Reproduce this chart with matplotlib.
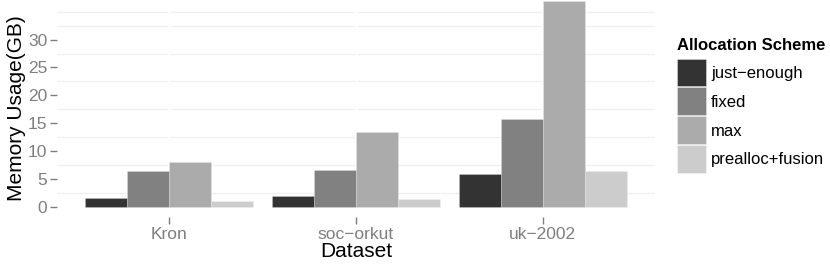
import numpy as np
import matplotlib
matplotlib.use('Agg')
import matplotlib.pyplot as plt
from matplotlib.patches import Patch

datasets = ['Kron', 'soc\u2212orkut', 'uk\u22122002']
schemes = ['just\u2212enough', 'fixed', 'max', 'prealloc+fusion']
colors = ['#333333', '#818181', '#ABABAB', '#CCCCCC']

# memory usage in GB, one list per allocation scheme
just_enough = [1.6, 1.9, 5.9]
fixed = [6.4, 6.7, 15.8]
max_alloc = [8.1, 13.4, 36.9]
prealloc_fusion = [1.1, 1.5, 6.45]
values = [just_enough, fixed, max_alloc, prealloc_fusion]

yticks = [0, 5, 10, 15, 20, 25, 30]
minor_grid = [2.5, 7.5, 12.5, 17.5, 22.5, 27.5, 32.5, 35]

plt.rcParams['font.family'] = ['Liberation Sans', 'DejaVu Sans']

fig = plt.figure(figsize=(8.3, 2.64), dpi=100)
ax = fig.add_axes([57/830, 47/264, (655-57)/830, 217/264])

x = np.arange(1, len(datasets)+1)
width = 0.9 / len(schemes)
for i, vals in enumerate(values):
  offs = (i - (len(schemes)-1)/2) * width
  ax.bar(x + offs, vals, width, color=colors[i], edgecolor=(1, 1, 1, 0.35), linewidth=0.4, zorder=3)

# light grey minor lines, white major lines (like ggplot with white panel)
for g in minor_grid:
  ax.axhline(g, color='#F0F0F0', linewidth=1.0, zorder=1)
for xc in x:
  ax.axvline(xc, color='white', linewidth=1.8, zorder=2)

ax.set_xlim(0.4, 3.6)
ax.set_ylim(-1.8, 37.1)
ax.set_xticks(x)
ax.set_xticklabels(datasets)
ax.set_yticks(yticks)
ax.tick_params(axis='both', colors='#7F7F7F', labelsize=12.5, length=5, width=1, pad=2)
for s in ax.spines.values():
  s.set_visible(False)

ax.set_xlabel('Dataset', fontsize=15, labelpad=0)
ax.set_ylabel('Memory Usage(GB)', fontsize=15, labelpad=1)

handles = [Patch(facecolor=c, edgecolor=(1, 1, 1, 0.5), linewidth=0.5) for c in colors]
leg = fig.legend(handles, schemes, loc='upper left', bbox_to_anchor=(677/830, 1-38/264),
                 frameon=False, fontsize=12, title='Allocation Scheme',
                 title_fontproperties={'weight': 'bold', 'size': 12},
                 handlelength=1.75, handleheight=2.2, labelspacing=0.06,
                 handletextpad=0.3, borderpad=0, borderaxespad=0)
leg._legend_box.align = 'left'
leg._legend_box.sep = 4

fig.savefig('out.png', dpi=100)
